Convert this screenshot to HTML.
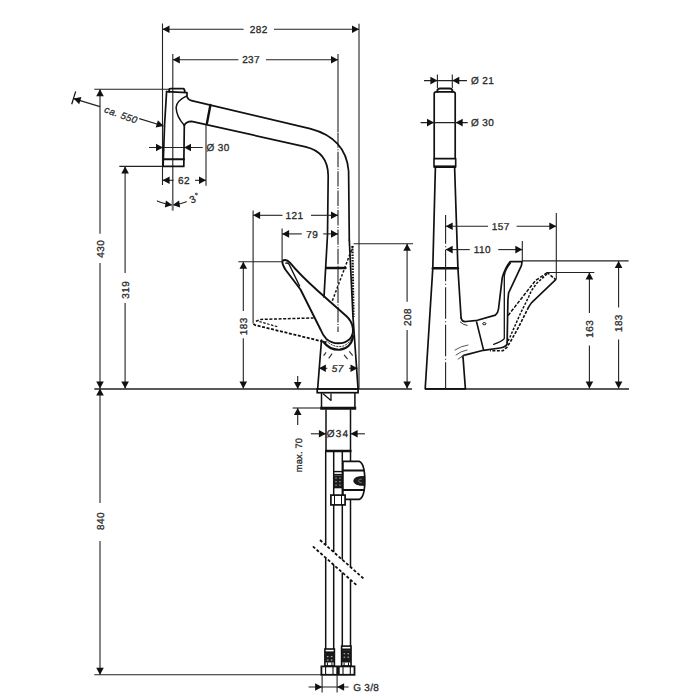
<!DOCTYPE html>
<html><head><meta charset="utf-8"><style>
html,body{margin:0;padding:0;background:#fff;}
svg{display:block;}
text{font-family:"Liberation Sans", sans-serif; text-rendering:geometricPrecision;}
</style></head><body>
<svg width="700" height="700" viewBox="0 0 700 700">
<rect width="700" height="700" fill="#fff"/>
<line x1="162.5" y1="29.2" x2="243.6" y2="29.2" stroke="#222" stroke-width="1.1" />
<line x1="274" y1="29.2" x2="359" y2="29.2" stroke="#222" stroke-width="1.1" />
<polygon points="162.50,29.20 169.50,25.40 169.50,33.00" fill="#111"/>
<polygon points="359.00,29.20 352.00,33.00 352.00,25.40" fill="#111"/>
<text x="258.7" y="29.2" dy="1.1" font-size="10" text-anchor="middle" fill="#2a2a2a" letter-spacing="0.4" dominant-baseline="central" stroke="#2a2a2a" stroke-width="0.3">282</text>
<line x1="162.5" y1="23.5" x2="162.5" y2="185" stroke="#222" stroke-width="1.1" />
<line x1="359" y1="23.7" x2="359" y2="389" stroke="#222" stroke-width="1.1" />
<line x1="172.8" y1="59.7" x2="238.4" y2="59.7" stroke="#222" stroke-width="1.1" />
<line x1="266" y1="59.7" x2="338" y2="59.7" stroke="#222" stroke-width="1.1" />
<polygon points="172.80,59.70 179.80,55.90 179.80,63.50" fill="#111"/>
<polygon points="338.00,59.70 331.00,63.50 331.00,55.90" fill="#111"/>
<text x="251.1" y="59.7" dy="1.1" font-size="10" text-anchor="middle" fill="#2a2a2a" letter-spacing="0.4" dominant-baseline="central" stroke="#2a2a2a" stroke-width="0.3">237</text>
<line x1="172.8" y1="54" x2="172.8" y2="210" stroke="#222" stroke-width="1.1" />
<line x1="338" y1="54" x2="338" y2="132" stroke="#222" stroke-width="1.1" />
<line x1="338" y1="132" x2="338" y2="332" stroke="#222" stroke-width="1.1" stroke-dasharray="15.4 1.5 1 1.5" stroke-dashoffset="-0.4"/>
<line x1="100" y1="89.3" x2="100" y2="233.7" stroke="#222" stroke-width="1.1" />
<line x1="100" y1="262.9" x2="100" y2="388.6" stroke="#222" stroke-width="1.1" />
<polygon points="100.00,89.30 103.80,96.30 96.20,96.30" fill="#111"/>
<polygon points="100.00,388.60 96.20,381.60 103.80,381.60" fill="#111"/>
<text x="100" y="248.79999999999998" dy="1.1" font-size="10" text-anchor="middle" fill="#2a2a2a" transform="rotate(-90 100 248.79999999999998)" letter-spacing="0.4" dominant-baseline="central" stroke="#2a2a2a" stroke-width="0.3">430</text>
<line x1="94.3" y1="89.3" x2="169" y2="89.3" stroke="#222" stroke-width="1.1" />
<line x1="125.1" y1="166.4" x2="125.1" y2="272.9" stroke="#222" stroke-width="1.1" />
<line x1="125.1" y1="302.9" x2="125.1" y2="388.6" stroke="#222" stroke-width="1.1" />
<polygon points="125.10,166.40 128.90,173.40 121.30,173.40" fill="#111"/>
<polygon points="125.10,388.60 121.30,381.60 128.90,381.60" fill="#111"/>
<text x="125.1" y="289.8" dy="1.1" font-size="10" text-anchor="middle" fill="#2a2a2a" transform="rotate(-90 125.1 289.8)" letter-spacing="0.4" dominant-baseline="central" stroke="#2a2a2a" stroke-width="0.3">319</text>
<line x1="119.3" y1="166.4" x2="163" y2="166.4" stroke="#222" stroke-width="1.1" />
<line x1="100" y1="388.6" x2="100" y2="503" stroke="#222" stroke-width="1.1" />
<line x1="100" y1="541" x2="100" y2="674.7" stroke="#222" stroke-width="1.1" />
<polygon points="100.00,388.60 103.80,395.60 96.20,395.60" fill="#111"/>
<polygon points="100.00,674.70 96.20,667.70 103.80,667.70" fill="#111"/>
<text x="100" y="521" dy="1.1" font-size="10" text-anchor="middle" fill="#2a2a2a" transform="rotate(-90 100 521)" letter-spacing="0.4" dominant-baseline="central" stroke="#2a2a2a" stroke-width="0.3">840</text>
<line x1="94.3" y1="674.7" x2="321.4" y2="674.7" stroke="#222" stroke-width="1.1" />
<line x1="94.3" y1="389" x2="412" y2="389" stroke="#222" stroke-width="1.3" />
<line x1="425" y1="389" x2="629" y2="389" stroke="#222" stroke-width="1.3" />
<line x1="73.6" y1="98.6" x2="100" y2="106.6" stroke="#222" stroke-width="1.1" />
<line x1="139.3" y1="118.6" x2="163.5" y2="126" stroke="#222" stroke-width="1.1" />
<polygon points="73.60,98.60 81.40,96.99 79.20,104.27" fill="#111"/>
<polygon points="163.50,126.00 155.69,127.59 157.92,120.32" fill="#111"/>
<line x1="75.7" y1="91.4" x2="71.7" y2="104.3" stroke="#111" stroke-width="1.2" />
<text x="121.2" y="114.6" dy="1.1" font-size="9.6" text-anchor="middle" fill="#2a2a2a" font-style="italic" transform="rotate(20 121.2 114.6)" letter-spacing="0.4" dominant-baseline="central" stroke="#2a2a2a" stroke-width="0.3">ca. 550</text>
<line x1="149" y1="147.5" x2="202.7" y2="147.5" stroke="#222" stroke-width="1.1" />
<polygon points="163.00,147.50 156.00,151.30 156.00,143.70" fill="#111"/>
<polygon points="184.00,147.50 191.00,143.70 191.00,151.30" fill="#111"/>
<text x="206.5" y="147.5" dy="1.1" font-size="10" text-anchor="start" fill="#2a2a2a" letter-spacing="0.4" dominant-baseline="central" stroke="#2a2a2a" stroke-width="0.3">Ø 30</text>
<line x1="206" y1="123.7" x2="206" y2="185.7" stroke="#222" stroke-width="1.1" />
<line x1="162.6" y1="180.3" x2="173.6" y2="180.3" stroke="#222" stroke-width="1.1" />
<line x1="195" y1="180.3" x2="206" y2="180.3" stroke="#222" stroke-width="1.1" />
<polygon points="162.60,180.30 169.60,176.50 169.60,184.10" fill="#111"/>
<polygon points="206.00,180.30 199.00,184.10 199.00,176.50" fill="#111"/>
<text x="184.0" y="180.3" dy="1.1" font-size="10" text-anchor="middle" fill="#2a2a2a" letter-spacing="0.4" dominant-baseline="central" stroke="#2a2a2a" stroke-width="0.3">62</text>
<path d="M157.3,200.9 Q163,203.5 172,205" stroke="#222" stroke-width="1.1" fill="none" stroke-linejoin="round" stroke-linecap="round" />
<polygon points="172.30,205.00 164.84,207.52 165.91,200.40" fill="#111"/>
<path d="M186.4,201.7 Q181,204 173,205" stroke="#222" stroke-width="1.1" fill="none" stroke-linejoin="round" stroke-linecap="round" />
<polygon points="172.70,205.00 179.09,200.40 180.16,207.52" fill="#111"/>
<line x1="172.6" y1="200" x2="172.6" y2="210.7" stroke="#777" stroke-width="1.8" />
<text x="192.6" y="199.2" dy="1.1" font-size="10" text-anchor="middle" fill="#2a2a2a" transform="rotate(-25 192.6 199.2)" letter-spacing="0.4" dominant-baseline="central" stroke="#2a2a2a" stroke-width="0.3">3</text>
<text x="197" y="194.8" dy="1.1" font-size="8" text-anchor="middle" fill="#2a2a2a" transform="rotate(-25 197 194.8)" letter-spacing="0.4" dominant-baseline="central" stroke="#2a2a2a" stroke-width="0.3">°</text>
<path d="M169.2,92 L169.2,89.6 Q169.2,88.6 170.5,88.6 L183,88.6 Q184.7,88.8 184.7,91 L184.7,92.2" stroke="#111" stroke-width="1.8" fill="none" stroke-linejoin="round" stroke-linecap="round" />
<path d="M166.6,91.6 L164.6,124 L163.1,166.4 L183.8,166.4 L184.3,125.4" stroke="#111" stroke-width="1.7" fill="none" stroke-linejoin="round" stroke-linecap="round" />
<path d="M163.3,159.2 L184,159.2" stroke="#111" stroke-width="2.0" fill="none" stroke-linejoin="round" stroke-linecap="round" />
<path d="M166.6,91.6 L187,92.6 L187,96.8 Q188,99.8 191.5,100.6 L310,128.6 Q346,138 348.6,171 L349.3,240" stroke="#111" stroke-width="1.7" fill="none" stroke-linejoin="round" stroke-linecap="round" />
<path d="M184.3,125.4 Q186,121.5 191.6,121.4 L305.7,146.8 Q328,152 328.2,175.7 L327.5,235 L324,297" stroke="#111" stroke-width="1.7" fill="none" stroke-linejoin="round" stroke-linecap="round" />
<path d="M186.3,96.2 Q176.5,101 176.1,107.5 Q176.5,117 184.3,125.2" stroke="#111" stroke-width="1.5" fill="none" stroke-linejoin="round" stroke-linecap="round" />
<path d="M210.4,105 L207,123" stroke="#111" stroke-width="2.4" fill="none" stroke-linejoin="round" stroke-linecap="round" />
<line x1="253.1" y1="210.4" x2="253.1" y2="323.4" stroke="#222" stroke-width="1.1" />
<line x1="253.1" y1="215.3" x2="282.5" y2="215.3" stroke="#222" stroke-width="1.1" />
<line x1="311" y1="215.3" x2="338" y2="215.3" stroke="#222" stroke-width="1.1" />
<polygon points="253.10,215.30 260.10,211.50 260.10,219.10" fill="#111"/>
<polygon points="338.00,215.30 331.00,219.10 331.00,211.50" fill="#111"/>
<text x="294.5" y="215.3" dy="1.1" font-size="10" text-anchor="middle" fill="#2a2a2a" letter-spacing="0.4" dominant-baseline="central" stroke="#2a2a2a" stroke-width="0.3">121</text>
<line x1="282.1" y1="228.6" x2="282.1" y2="261" stroke="#222" stroke-width="1.1" />
<line x1="282.1" y1="233.9" x2="301.8" y2="233.9" stroke="#222" stroke-width="1.1" />
<line x1="323.2" y1="233.9" x2="338" y2="233.9" stroke="#222" stroke-width="1.1" />
<polygon points="282.10,233.90 289.10,230.10 289.10,237.70" fill="#111"/>
<polygon points="338.00,233.90 331.00,237.70 331.00,230.10" fill="#111"/>
<text x="312.2" y="233.9" dy="1.1" font-size="10" text-anchor="middle" fill="#2a2a2a" letter-spacing="0.4" dominant-baseline="central" stroke="#2a2a2a" stroke-width="0.3">79</text>
<line x1="243.3" y1="261.7" x2="243.3" y2="310.9" stroke="#222" stroke-width="1.1" />
<line x1="243.3" y1="338.3" x2="243.3" y2="388.6" stroke="#222" stroke-width="1.1" />
<polygon points="243.30,261.70 247.10,268.70 239.50,268.70" fill="#111"/>
<polygon points="243.30,388.60 239.50,381.60 247.10,381.60" fill="#111"/>
<text x="243.3" y="326.2" dy="1.1" font-size="10" text-anchor="middle" fill="#2a2a2a" transform="rotate(-90 243.3 326.2)" letter-spacing="0.4" dominant-baseline="central" stroke="#2a2a2a" stroke-width="0.3">183</text>
<line x1="238.3" y1="261.7" x2="282" y2="261.7" stroke="#222" stroke-width="1.1" />
<line x1="407.1" y1="243.8" x2="407.1" y2="301.7" stroke="#222" stroke-width="1.1" />
<line x1="407.1" y1="330" x2="407.1" y2="388.6" stroke="#222" stroke-width="1.1" />
<polygon points="407.10,243.80 410.90,250.80 403.30,250.80" fill="#111"/>
<polygon points="407.10,388.60 403.30,381.60 410.90,381.60" fill="#111"/>
<text x="407.1" y="317.0" dy="1.1" font-size="10" text-anchor="middle" fill="#2a2a2a" transform="rotate(-90 407.1 317.0)" letter-spacing="0.4" dominant-baseline="central" stroke="#2a2a2a" stroke-width="0.3">208</text>
<line x1="353.6" y1="243.8" x2="413" y2="243.8" stroke="#222" stroke-width="1.1" />
<path d="M326.5,268 L345.5,268" stroke="#111" stroke-width="2.4" fill="none" stroke-linejoin="round" stroke-linecap="round" />
<path d="M282.4,261.5 C283,259.5 286.5,259 289.9,262.7 Q300,275 318,291 L346.5,316.3 C354,323 355,334 349.3,339.4 C344,344.5 333,345 326.1,338.6 C323.5,336 322,333 320.8,330 L300.5,289.5 L285.7,270 C283.5,266.5 282.2,263.5 282.4,261.5 Z" stroke="#111" stroke-width="1.9" fill="none" stroke-linejoin="round" stroke-linecap="round" />
<path d="M286,263.2 Q288,262.6 289.2,264.5 L299.6,286" stroke="#111" stroke-width="1.4" fill="none" stroke-linejoin="round" stroke-linecap="round" />
<path d="M323.6,342 C328,348 334,350 340,349.7 C347,349 352,344 353.1,336" stroke="#111" stroke-width="2.2" fill="none" stroke-linejoin="round" stroke-linecap="round" />
<path d="M326,340.5 C331,345.5 336,346.8 340,346.6 C346,346.3 350,342 352,337" stroke="#333" stroke-width="1.0" fill="none" stroke-linejoin="round" stroke-linecap="butt" stroke-dasharray="2 1"/>
<path d="M321.5,340 L317.6,389.5" stroke="#111" stroke-width="1.7" fill="none" stroke-linejoin="round" stroke-linecap="round" />
<path d="M349.3,240 L353,317 L358.1,389.5" stroke="#111" stroke-width="1.7" fill="none" stroke-linejoin="round" stroke-linecap="round" />
<line x1="326.1" y1="352.3" x2="323.6" y2="355.7" stroke="#333" stroke-width="1.2" />
<line x1="332.1" y1="353.6" x2="328.7" y2="358.3" stroke="#333" stroke-width="1.2" />
<line x1="344.1" y1="354.8" x2="347.6" y2="359.1" stroke="#333" stroke-width="1.2" />
<line x1="349.3" y1="351.4" x2="352.7" y2="355.7" stroke="#333" stroke-width="1.2" />
<path d="M255.9,321.2 L260.9,319.4 L313.6,318" stroke="#111" stroke-width="1.5" fill="none" stroke-linejoin="round" stroke-linecap="butt" stroke-dasharray="3 1.6"/>
<path d="M253.4,324 L255.1,325.1 L326.4,342.4" stroke="#111" stroke-width="1.8" fill="none" stroke-linejoin="round" stroke-linecap="butt" stroke-dasharray="3 1.6"/>
<path d="M259.4,321.6 L278,326.9" stroke="#111" stroke-width="1.2" fill="none" stroke-linejoin="round" stroke-linecap="butt" stroke-dasharray="2.5 1.5"/>
<path d="M353,246 L331.9,302" stroke="#111" stroke-width="1.5" fill="none" stroke-linejoin="round" stroke-linecap="butt" stroke-dasharray="2.5 1.8"/>
<path d="M352.4,246 L353.5,317" stroke="#111" stroke-width="2.2" fill="none" stroke-linejoin="round" stroke-linecap="butt" stroke-dasharray="1.6 1.2"/>
<line x1="318.9" y1="368.3" x2="327.3" y2="368.3" stroke="#222" stroke-width="1.1" />
<line x1="349.1" y1="368.3" x2="357.5" y2="368.3" stroke="#222" stroke-width="1.1" />
<polygon points="318.90,368.30 325.90,364.50 325.90,372.10" fill="#111"/>
<polygon points="357.50,368.30 350.50,372.10 350.50,364.50" fill="#111"/>
<text x="337.7" y="368.3" dy="1.1" font-size="10" text-anchor="middle" fill="#2a2a2a" font-style="italic" letter-spacing="0.4" dominant-baseline="central" stroke="#2a2a2a" stroke-width="0.3">57</text>
<rect x="317.2" y="389" width="40.9" height="3.7" stroke="#111" stroke-width="1.7" fill="none"/>
<path d="M321.5,392.7 L321.5,408.1 M354.9,392.7 L354.9,408.1" stroke="#111" stroke-width="1.5" fill="none" stroke-linejoin="round" stroke-linecap="round" />
<path d="M323.4,394 L331,400.4 L331,394" stroke="#111" stroke-width="1.3" fill="none" stroke-linejoin="round" stroke-linecap="round" />
<line x1="320.2" y1="408.2" x2="356.2" y2="408.2" stroke="#111" stroke-width="3" />
<path d="M326,410 L326,451 M350.5,410 L350.5,451" stroke="#111" stroke-width="1.5" fill="none" stroke-linejoin="round" stroke-linecap="round" />
<line x1="325" y1="451" x2="351.5" y2="451" stroke="#111" stroke-width="2.5" />
<line x1="297.7" y1="376" x2="297.7" y2="389" stroke="#222" stroke-width="1.1" />
<polygon points="297.70,389.00 293.90,382.00 301.50,382.00" fill="#111"/>
<line x1="297.7" y1="408" x2="297.7" y2="425" stroke="#222" stroke-width="1.1" />
<polygon points="297.70,408.00 301.50,415.00 293.90,415.00" fill="#111"/>
<line x1="292.6" y1="408" x2="321" y2="408" stroke="#222" stroke-width="1.1" />
<text x="298" y="455" dy="1.1" font-size="9.3" text-anchor="middle" fill="#2a2a2a" transform="rotate(-90 298 455)" letter-spacing="0.2" dominant-baseline="central" stroke="#2a2a2a" stroke-width="0.3">max. 70</text>
<line x1="310.9" y1="433.8" x2="325.9" y2="433.8" stroke="#222" stroke-width="1.1" />
<polygon points="325.90,433.80 318.90,437.60 318.90,430.00" fill="#111"/>
<line x1="364.9" y1="433.8" x2="350.6" y2="433.8" stroke="#222" stroke-width="1.1" />
<polygon points="350.60,433.80 357.60,430.00 357.60,437.60" fill="#111"/>
<text x="338.1" y="433.8" dy="1.1" font-size="10" text-anchor="middle" fill="#2a2a2a" letter-spacing="1.2" dominant-baseline="central" stroke="#2a2a2a" stroke-width="0.3">Ø34</text>
<line x1="325.7" y1="451" x2="325.7" y2="545.0463302752294" stroke="#111" stroke-width="1.5" />
<line x1="325.7" y1="557.7581609195403" x2="325.7" y2="666.4" stroke="#111" stroke-width="1.5" />
<line x1="333.7" y1="451" x2="333.7" y2="552.1288990825688" stroke="#111" stroke-width="1.5" />
<line x1="333.7" y1="564.8570114942529" x2="333.7" y2="666.4" stroke="#111" stroke-width="1.5" />
<line x1="342.3" y1="451" x2="342.3" y2="559.7426605504587" stroke="#111" stroke-width="1.5" />
<line x1="342.3" y1="572.488275862069" x2="342.3" y2="666.4" stroke="#111" stroke-width="1.5" />
<line x1="350.5" y1="451" x2="350.5" y2="567.0022935779816" stroke="#111" stroke-width="1.5" />
<line x1="350.5" y1="579.7645977011495" x2="350.5" y2="666.4" stroke="#111" stroke-width="1.5" />
<path d="M320,540 L363.6,578.6" stroke="#111" stroke-width="1.8" fill="none" stroke-linejoin="round" stroke-linecap="butt" stroke-dasharray="3 2"/>
<path d="M312.9,546.4 L356.4,585" stroke="#111" stroke-width="1.8" fill="none" stroke-linejoin="round" stroke-linecap="butt" stroke-dasharray="3 2"/>
<rect x="343.5" y="461.6" width="19" height="38" fill="#fff" stroke="none"/>
<path d="M342.9,461.4 L359.5,461.4 Q364.8,464 364.8,480.5 Q364.8,497 359.5,499.3 L342.9,499.3 Z" stroke="#111" stroke-width="1.7" fill="none" stroke-linejoin="round" stroke-linecap="round" />
<path d="M342.9,470.6 L363.5,470.6 M342.9,490 L363.5,490" stroke="#111" stroke-width="2" fill="none" stroke-linejoin="round" stroke-linecap="round" />
<path d="M364.6,476.6 Q353.8,476.2 353.8,480.9 Q353.8,485.5 364.6,485.3 Z" fill="#1a1a1a" stroke="#111" stroke-width="1"/>
<path d="M361.5,479 Q358.5,479 358.5,480.9 Q358.5,482.8 361.5,482.8" stroke="#888" stroke-width="0.8" fill="none" stroke-linejoin="round" stroke-linecap="round" />
<rect x="333.7" y="471.6" width="8.6" height="16" fill="#fff" stroke="#111" stroke-width="1.4"/>
<line x1="333.7" y1="474.6" x2="342.3" y2="474.6" stroke="#111" stroke-width="1.4" />
<rect x="333.7" y="475.4" width="8.6" height="12" fill="#1c1c1c"/>
<rect x="335.3" y="477.5" width="1.5" height="1.2" fill="#999"/>
<rect x="339.2" y="477.5" width="1.5" height="1.2" fill="#999"/>
<rect x="335.3" y="481" width="1.5" height="1.2" fill="#999"/>
<rect x="339.2" y="481" width="1.5" height="1.2" fill="#999"/>
<rect x="335.3" y="484.5" width="1.5" height="1.2" fill="#999"/>
<rect x="339.2" y="484.5" width="1.5" height="1.2" fill="#999"/>
<rect x="330.9" y="495.1" width="14.2" height="9.8" fill="#fff" stroke="#111" stroke-width="1.7"/>
<line x1="334.5" y1="495.1" x2="334.5" y2="504.9" stroke="#111" stroke-width="1" />
<line x1="341.5" y1="495.1" x2="341.5" y2="504.9" stroke="#111" stroke-width="1" />
<rect x="324.9" y="649.0" width="9.5" height="17.0" fill="#fff" stroke="#111" stroke-width="1.6"/>
<line x1="324.9" y1="652.2" x2="334.4" y2="652.2" stroke="#111" stroke-width="1.6" />
<rect x="324.9" y="653.0" width="9.5" height="9.5" fill="#1a1a1a"/>
<rect x="326.9" y="656.0" width="1.6" height="1.2" fill="#aaa"/>
<rect x="330.79999999999995" y="656.0" width="1.6" height="1.2" fill="#aaa"/>
<rect x="326.9" y="659.5" width="1.6" height="1.2" fill="#aaa"/>
<rect x="330.79999999999995" y="659.5" width="1.6" height="1.2" fill="#aaa"/>
<line x1="327.4" y1="662.5" x2="327.4" y2="666" stroke="#111" stroke-width="1" />
<line x1="331.9" y1="662.5" x2="331.9" y2="666" stroke="#111" stroke-width="1" />
<rect x="321.4" y="666.4" width="15.800000000000011" height="8.4" fill="#fff" stroke="#111" stroke-width="1.8"/>
<line x1="325.59999999999997" y1="666.4" x2="325.59999999999997" y2="674.8" stroke="#111" stroke-width="1.1" />
<line x1="333.0" y1="666.4" x2="333.0" y2="674.8" stroke="#111" stroke-width="1.1" />
<rect x="341.6" y="646.1" width="9.399999999999977" height="19.899999999999977" fill="#fff" stroke="#111" stroke-width="1.6"/>
<line x1="341.6" y1="649.3000000000001" x2="351.0" y2="649.3000000000001" stroke="#111" stroke-width="1.6" />
<rect x="341.6" y="650.1" width="9.399999999999977" height="12.399999999999977" fill="#1a1a1a"/>
<rect x="343.6" y="653.1" width="1.6" height="1.2" fill="#aaa"/>
<rect x="347.4" y="653.1" width="1.6" height="1.2" fill="#aaa"/>
<rect x="343.6" y="656.6" width="1.6" height="1.2" fill="#aaa"/>
<rect x="347.4" y="656.6" width="1.6" height="1.2" fill="#aaa"/>
<line x1="344.1" y1="662.5" x2="344.1" y2="666" stroke="#111" stroke-width="1" />
<line x1="348.5" y1="662.5" x2="348.5" y2="666" stroke="#111" stroke-width="1" />
<rect x="338.8" y="666.4" width="15.699999999999989" height="8.4" fill="#fff" stroke="#111" stroke-width="1.8"/>
<line x1="343.0" y1="666.4" x2="343.0" y2="674.8" stroke="#111" stroke-width="1.1" />
<line x1="350.3" y1="666.4" x2="350.3" y2="674.8" stroke="#111" stroke-width="1.1" />
<line x1="322.1" y1="675" x2="322.1" y2="692.5" stroke="#222" stroke-width="1.1" />
<line x1="337.1" y1="675" x2="337.1" y2="692.5" stroke="#222" stroke-width="1.1" />
<line x1="308.6" y1="687" x2="348.6" y2="687" stroke="#222" stroke-width="1.1" />
<polygon points="322.10,687.00 315.10,690.80 315.10,683.20" fill="#111"/>
<polygon points="337.10,687.00 344.10,683.20 344.10,690.80" fill="#111"/>
<text x="353.2" y="687.4" dy="1.1" font-size="10" text-anchor="start" fill="#2a2a2a" letter-spacing="0.3" dominant-baseline="central" stroke="#2a2a2a" stroke-width="0.3">G 3/8</text>
<path d="M437.4,91.7 L437.4,89.8 Q438,88.6 440,88.5 L449.7,88.5 Q451.7,88.6 452.3,89.8 L452.3,91.7" stroke="#111" stroke-width="1.9" fill="none" stroke-linejoin="round" stroke-linecap="round" />
<path d="M434.2,158.6 L434.2,93.8 Q434.2,91.9 436.2,91.9 L453.2,91.9 Q455.2,91.9 455.2,93.8 L455.2,158.6 Z" stroke="#111" stroke-width="1.7" fill="none" stroke-linejoin="round" stroke-linecap="round" />
<path d="M434,158.6 L434,167.1 L455.7,167.1 L455.7,158.6" stroke="#111" stroke-width="1.6" fill="none" stroke-linejoin="round" stroke-linecap="round" />
<line x1="434" y1="166.6" x2="455.7" y2="166.6" stroke="#111" stroke-width="2.4" />
<path d="M435.4,167 L432.8,268 L425.2,388.8 L465.4,388.8 L463,357" stroke="#111" stroke-width="1.7" fill="none" stroke-linejoin="round" stroke-linecap="round" />
<path d="M454.6,167 L457.9,268 L461.1,318" stroke="#111" stroke-width="1.7" fill="none" stroke-linejoin="round" stroke-linecap="round" />
<path d="M432.8,268.3 L457.9,268.3" stroke="#111" stroke-width="2.4" fill="none" stroke-linejoin="round" stroke-linecap="round" />
<line x1="445.6" y1="215" x2="445.6" y2="389" stroke="#222" stroke-width="1.1" stroke-dasharray="31.5 2.5 1 2.5" stroke-dashoffset="2.7"/>
<line x1="437.4" y1="74.6" x2="437.4" y2="88" stroke="#222" stroke-width="1.1" />
<line x1="452.3" y1="74.6" x2="452.3" y2="88" stroke="#222" stroke-width="1.1" />
<line x1="424" y1="80.6" x2="466.9" y2="80.6" stroke="#222" stroke-width="1.1" />
<polygon points="437.40,80.60 430.40,84.40 430.40,76.80" fill="#111"/>
<polygon points="452.30,80.60 459.30,76.80 459.30,84.40" fill="#111"/>
<text x="471" y="80.6" dy="1.1" font-size="10" text-anchor="start" fill="#2a2a2a" letter-spacing="0.4" dominant-baseline="central" stroke="#2a2a2a" stroke-width="0.3">Ø 21</text>
<line x1="420.6" y1="122.6" x2="467.7" y2="122.6" stroke="#222" stroke-width="1.1" />
<polygon points="434.00,122.60 427.00,126.40 427.00,118.80" fill="#111"/>
<polygon points="455.70,122.60 462.70,118.80 462.70,126.40" fill="#111"/>
<text x="471" y="122.6" dy="1.1" font-size="10" text-anchor="start" fill="#2a2a2a" letter-spacing="0.4" dominant-baseline="central" stroke="#2a2a2a" stroke-width="0.3">Ø 30</text>
<line x1="445.7" y1="226.3" x2="488" y2="226.3" stroke="#222" stroke-width="1.1" />
<line x1="516.6" y1="226.3" x2="556.3" y2="226.3" stroke="#222" stroke-width="1.1" />
<polygon points="445.70,226.30 452.70,222.50 452.70,230.10" fill="#111"/>
<polygon points="556.30,226.30 549.30,230.10 549.30,222.50" fill="#111"/>
<text x="500.7" y="226.3" dy="1.1" font-size="10" text-anchor="middle" fill="#2a2a2a" letter-spacing="0.4" dominant-baseline="central" stroke="#2a2a2a" stroke-width="0.3">157</text>
<line x1="556.3" y1="212.9" x2="556.3" y2="279.3" stroke="#222" stroke-width="1.1" />
<line x1="445.7" y1="249.6" x2="469.7" y2="249.6" stroke="#222" stroke-width="1.1" />
<line x1="498.3" y1="249.6" x2="522.3" y2="249.6" stroke="#222" stroke-width="1.1" />
<polygon points="445.70,249.60 452.70,245.80 452.70,253.40" fill="#111"/>
<polygon points="522.30,249.60 515.30,253.40 515.30,245.80" fill="#111"/>
<text x="482.4" y="249.6" dy="1.1" font-size="10" text-anchor="middle" fill="#2a2a2a" letter-spacing="0.4" dominant-baseline="central" stroke="#2a2a2a" stroke-width="0.3">110</text>
<line x1="522.3" y1="241" x2="522.3" y2="261" stroke="#222" stroke-width="1.1" />
<line x1="618.6" y1="260.9" x2="618.6" y2="307.5" stroke="#222" stroke-width="1.1" />
<line x1="618.6" y1="339.5" x2="618.6" y2="388.6" stroke="#222" stroke-width="1.1" />
<polygon points="618.60,260.90 622.40,267.90 614.80,267.90" fill="#111"/>
<polygon points="618.60,388.60 614.80,381.60 622.40,381.60" fill="#111"/>
<text x="618.6" y="323.09999999999997" dy="1.1" font-size="10" text-anchor="middle" fill="#2a2a2a" transform="rotate(-90 618.6 323.09999999999997)" letter-spacing="0.4" dominant-baseline="central" stroke="#2a2a2a" stroke-width="0.3">183</text>
<line x1="522" y1="260.9" x2="628.6" y2="260.9" stroke="#222" stroke-width="1.1" />
<line x1="589.4" y1="272.5" x2="589.4" y2="313" stroke="#222" stroke-width="1.1" />
<line x1="589.4" y1="345.5" x2="589.4" y2="388.6" stroke="#222" stroke-width="1.1" />
<polygon points="589.40,272.50 593.20,279.50 585.60,279.50" fill="#111"/>
<polygon points="589.40,388.60 585.60,381.60 593.20,381.60" fill="#111"/>
<text x="589.4" y="328.8" dy="1.1" font-size="10" text-anchor="middle" fill="#2a2a2a" transform="rotate(-90 589.4 328.8)" letter-spacing="0.4" dominant-baseline="central" stroke="#2a2a2a" stroke-width="0.3">163</text>
<line x1="547.1" y1="272.5" x2="594.3" y2="272.5" stroke="#222" stroke-width="1.1" />
<path d="M461.1,318 Q462,322 466,321.5 L477.4,320.3 L495.4,315.1 Q498,313 498.5,309 L502.3,277.4 Q505,268 510,261.7 L522.1,261.7 L521.4,265.7 L508.6,292.9 L507.9,300 L507.1,344.3 Q505,347.5 500,348 L483.4,350.3 L463.7,355.4 L462.3,356.6" stroke="#111" stroke-width="1.7" fill="none" stroke-linejoin="round" stroke-linecap="round" />
<path d="M510.5,263 Q505,270 504.3,276 L504.3,338.6 Q502,341.5 493.6,344.3" stroke="#111" stroke-width="1.3" fill="none" stroke-linejoin="round" stroke-linecap="round" />
<path d="M476.6,322 L483.4,349.4" stroke="#111" stroke-width="1.6" fill="none" stroke-linejoin="round" stroke-linecap="round" />
<ellipse cx="484.3" cy="323.7" rx="1.6" ry="1.1" fill="none" stroke="#111" stroke-width="1"/>
<path d="M460.3,322 Q463,325 467.1,325.4" stroke="#333" stroke-width="1" fill="none" stroke-linejoin="round" stroke-linecap="round" />
<path d="M455,350 Q461,346 468,345 M456,355 Q461,351 467,350 M458,359 Q462,356 466,355" stroke="#444" stroke-width="0.9" fill="none" stroke-linejoin="round" stroke-linecap="round" />
<path d="M547.1,272.5 L555.7,279.6" stroke="#111" stroke-width="1.6" fill="none" stroke-linejoin="round" stroke-linecap="butt" stroke-dasharray="3 1.5"/>
<path d="M555.7,279.6 L531.4,302.9 L528.6,307.1" stroke="#111" stroke-width="1.6" fill="none" stroke-linejoin="round" stroke-linecap="round" />
<path d="M528.6,307.1 L518.6,327.1 L511.4,340 L507.1,347.1 L502.9,350.7 L490,350.7" stroke="#111" stroke-width="1.6" fill="none" stroke-linejoin="round" stroke-linecap="butt" stroke-dasharray="3 1.5"/>
<path d="M547.1,272.5 L542.9,275.7 L535.7,280.4 L531.4,285.7 L508,315.6" stroke="#111" stroke-width="1.5" fill="none" stroke-linejoin="round" stroke-linecap="butt" stroke-dasharray="3.5 1.5"/>
<path d="M547,274 L537,283 L531.4,290.7 L528.6,297 L520.7,312.9 L510,337 L507,343" stroke="#111" stroke-width="1.5" fill="none" stroke-linejoin="round" stroke-linecap="butt" stroke-dasharray="2.5 1.5"/>
</svg>
</body></html>
